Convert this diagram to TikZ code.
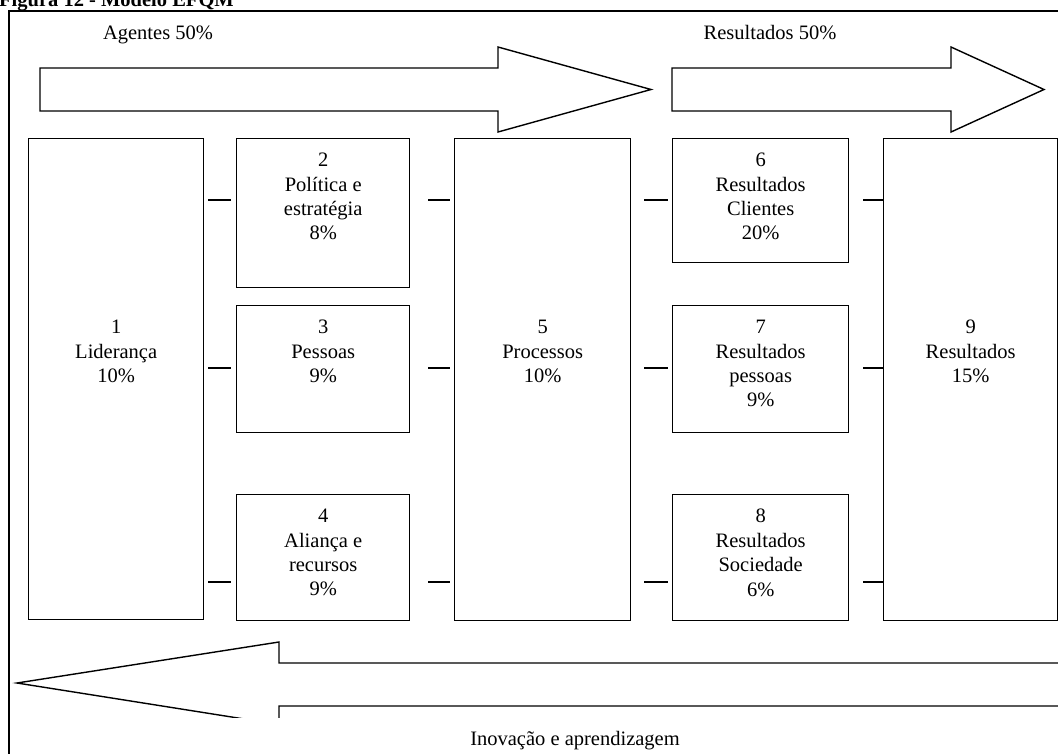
\documentclass[tikz,border=0pt]{standalone}
\usepackage{fontspec}
\setmainfont{Liberation Serif}
\begin{document}
\begin{tikzpicture}[x=1pt,y=-1pt,
  line join=miter,
  frame/.style={line width=1.5pt},
  box/.style={draw, line width=1.4pt, inner sep=0pt, anchor=north west},
  txt/.style={font=\fontsize{20.5}{24.4}\selectfont, align=center, inner sep=0pt, anchor=north},
  conn/.style={line width=1.4pt},
  bigarrow/.style={draw, line width=1.4pt, fill=white}]
\useasboundingbox (0,0) rectangle (1058,753);
\clip (0,0) rectangle (1058,753);

% caption and outer frame
\node[font=\bfseries\fontsize{20.5}{24}\selectfont, anchor=base west, inner sep=0pt] (title) at (-1,6) {Figura 12 - Modelo EFQM};
\draw[frame] (9,11) rectangle (1090,790);

% headings
\node[txt, anchor=base] (agentes) at (158,39) {Agentes 50\%};
\node[txt, anchor=base] (resultados) at (770,39) {Resultados 50\%};

% forward arrows
\draw[bigarrow] (40,68) -- (498,68) -- (498,47) -- (651,89.5) -- (498,132) -- (498,111) -- (40,111) -- cycle;
\draw[bigarrow] (672,68) -- (951,68) -- (951,47) -- (1044,89.5) -- (951,132) -- (951,111) -- (672,111) -- cycle;

% criteria boxes
\node[box, minimum width=175pt, minimum height=481pt] (b1) at (28,138) {};
\node[box, minimum width=173pt, minimum height=149pt] (b2) at (236,138) {};
\node[box, minimum width=173pt, minimum height=127pt] (b3) at (236,305) {};
\node[box, minimum width=173pt, minimum height=126pt] (b4) at (236,494) {};
\node[box, minimum width=176pt, minimum height=482pt] (b5) at (454,138) {};
\node[box, minimum width=176pt, minimum height=124pt] (b6) at (672,138) {};
\node[box, minimum width=176pt, minimum height=127pt] (b7) at (672,305) {};
\node[box, minimum width=176pt, minimum height=126pt] (b8) at (672,494) {};
\node[box, minimum width=174pt, minimum height=482pt] (b9) at (883,138) {};

% box labels
\node[txt] (t1) at ([yshift=-15pt]b1.north |- b3.north) {1\\Liderança\\10\%};
\node[txt] (t2) at ([yshift=-15pt]b2.north) {2\\Política e\\estratégia\\8\%};
\node[txt] (t3) at ([yshift=-15pt]b3.north) {3\\Pessoas\\9\%};
\node[txt] (t4) at ([yshift=-15pt]b4.north) {4\\Aliança e\\recursos\\9\%};
\node[txt] (t5) at ([yshift=-15pt]b5.north |- b3.north) {5\\Processos\\10\%};
\node[txt] (t6) at ([yshift=-15pt]b6.north) {6\\Resultados\\Clientes\\20\%};
\node[txt] (t7) at ([yshift=-15pt]b7.north) {7\\Resultados\\pessoas\\9\%};
\node[txt] (t8) at ([yshift=-15pt]b8.north) {8\\Resultados\\Sociedade\\6\%};
\node[txt] (t9) at ([yshift=-15pt]b9.north |- b3.north) {9\\Resultados\\15\%};

% link rows
\coordinate (r1) at (0,200);
\coordinate (r2) at (0,368);
\coordinate (r3) at (0,582);
\foreach \r in {r1,r2,r3}{
  \draw[conn] (b1.east |- \r) ++(4,0) -- ++(23,0);
  \draw[conn] (b2.east |- \r) ++(18,0) -- ++(22,0);
  \draw[conn] (b5.east |- \r) ++(13,0) -- ++(24,0);
  \draw[conn] (b6.east |- \r) ++(14,0) -- (b9.west |- \r);
}

% feedback arrow, cut off by the caption area below it
\begin{scope}
  \clip (10,0) rectangle (1058,717);
  \draw[bigarrow] (1090,663) -- (279,663) -- (279,642) -- (17,683) -- (279,724.5) -- (279,706) -- (1090,706);
\end{scope}
\node[txt, anchor=base] (inov) at (575,745) {Inovação e aprendizagem};
\end{tikzpicture}
\end{document}
